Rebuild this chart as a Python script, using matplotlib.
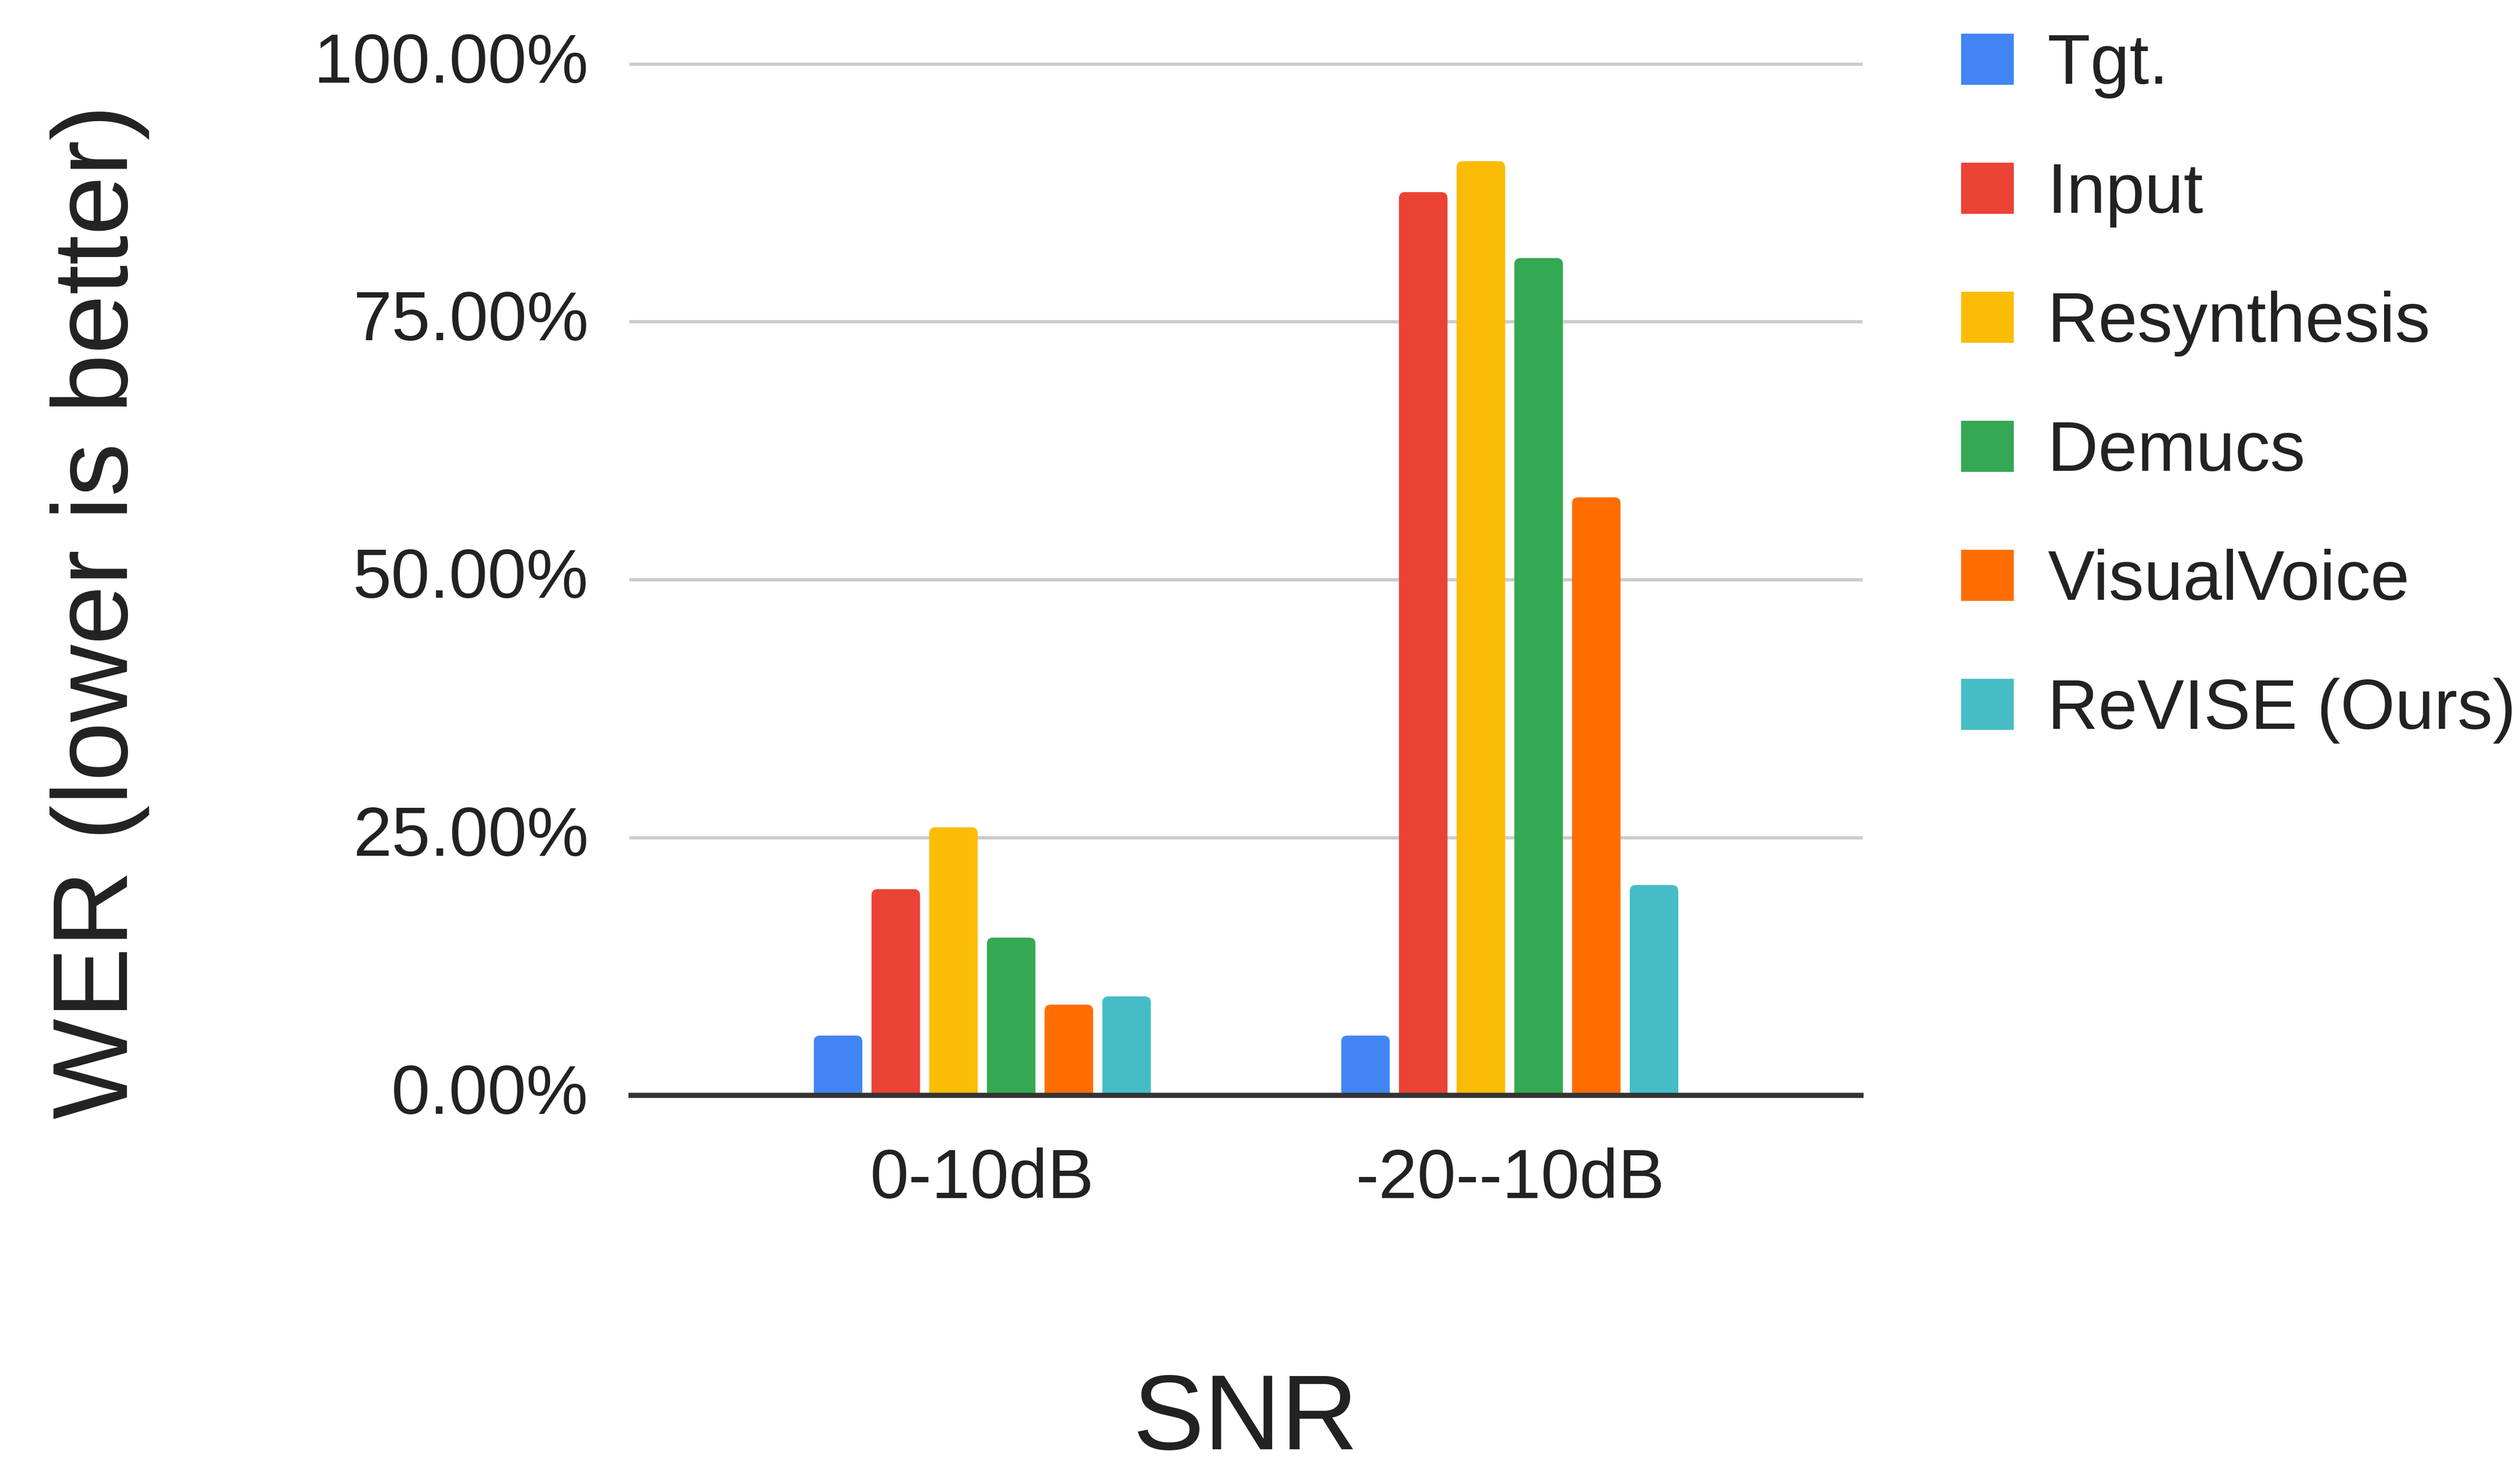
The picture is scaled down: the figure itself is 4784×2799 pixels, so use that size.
import matplotlib
matplotlib.use("Agg")
import matplotlib.pyplot as plt
from matplotlib.patches import FancyBboxPatch, Patch
import numpy as np

plt.rcParams['font.family'] = ['Liberation Sans', 'DejaVu Sans']

# ---- data -------------------------------------------------------------
categories = ["0-10dB", "-20--10dB"]
methods = ["Tgt.", "Input", "Resynthesis", "Demucs", "VisualVoice", "ReVISE (Ours)"]
tgt = [5.8, 5.8]
input_ = [20.0, 87.6]
resynthesis = [26.0, 90.6]
demucs = [15.3, 81.2]
visualvoice = [8.8, 58.0]
revise = [9.6, 20.4]
series = [tgt, input_, resynthesis, demucs, visualvoice, revise]
colors = ["#4285F4", "#EA4335", "#FBBC04", "#34A853", "#FF6D01", "#46BDC6"]
yticks = [0, 25, 50, 75, 100]
ytick_labels = ["0.00%", "25.00%", "50.00%", "75.00%", "100.00%"]

# ---- figure -----------------------------------------------------------
W, H, DPI = 4784, 2799, 100
fig = plt.figure(figsize=(W / DPI, H / DPI), dpi=DPI)
ax_l, ax_r, ax_b, ax_t = 1198, 3533, 2080, 122   # axes box in pixels
ax = fig.add_axes([ax_l / W, 1 - ax_b / H, (ax_r - ax_l) / W, (ax_b - ax_t) / H])

x = np.arange(len(categories))
bar_w = 0.092
pitch = 0.1094
xlim = (-0.666, 1.666)
ylim = (0, 100)
ax.set_xlim(*xlim)
ax.set_ylim(*ylim)

# pixel -> data scale, for rounded bar tops
xpp = (xlim[1] - xlim[0]) / (ax_r - ax_l)
ypp = (ylim[1] - ylim[0]) / (ax_b - ax_t)
radius_px = 12

n = len(series)
for i, (vals, col) in enumerate(zip(series, colors)):
    offs = (i - (n - 1) / 2) * pitch
    bars = ax.bar(x + offs, vals, width=bar_w, color=col, zorder=3)
    for rect in bars:
        rect.set_visible(False)
        bx, bw, bh = rect.get_x(), rect.get_width(), rect.get_height()
        extra = radius_px * ypp
        fp = FancyBboxPatch((bx, -extra), bw, bh + extra,
                            boxstyle=f"round,pad=0,rounding_size={radius_px * xpp}",
                            mutation_aspect=ypp / xpp,
                            facecolor=col, edgecolor="none", zorder=3)
        ax.add_patch(fp)

# gridlines and baseline
for yv in yticks[1:]:
    ax.axhline(yv, color="#cccccc", lw=4.5, zorder=1, clip_on=False)
ax.axhline(0, color="#333333", lw=7, zorder=4, clip_on=False)

for s in ax.spines.values():
    s.set_visible(False)

ax.set_yticks(yticks)
ax.set_yticklabels(ytick_labels, va="center")
ax.set_xticks(x)
ax.set_xticklabels(categories)
ax.tick_params(axis="y", length=0, pad=58, labelsize=95, labelcolor="#222222")
ax.tick_params(axis="x", length=0, pad=71, labelsize=95, labelcolor="#222222")

# axis titles
fig.text(242 / W, 1 - 2125 / H, "WER (lower is better)", rotation=90,
         rotation_mode="anchor", ha="left", va="baseline",
         fontsize=146, color="#222222")
fig.text(2365 / W, 1 - 2752 / H, "SNR", ha="center", va="baseline",
         fontsize=146, color="#222222")

# legend
handles = [Patch(facecolor=c, edgecolor="none") for c in colors]
fs = 96
leg = fig.legend(handles, methods, loc="upper left",
                 bbox_to_anchor=(3723 / W, 1 - 62 / H),
                 bbox_transform=fig.transFigure,
                 frameon=False, fontsize=fs, borderpad=0, borderaxespad=0,
                 handlelength=0.75, handleheight=0.75, handletextpad=0.48,
                 labelspacing=0.90)
for t in leg.get_texts():
    t.set_color("#222222")

fig.savefig("out.png", dpi=DPI, facecolor="white")
